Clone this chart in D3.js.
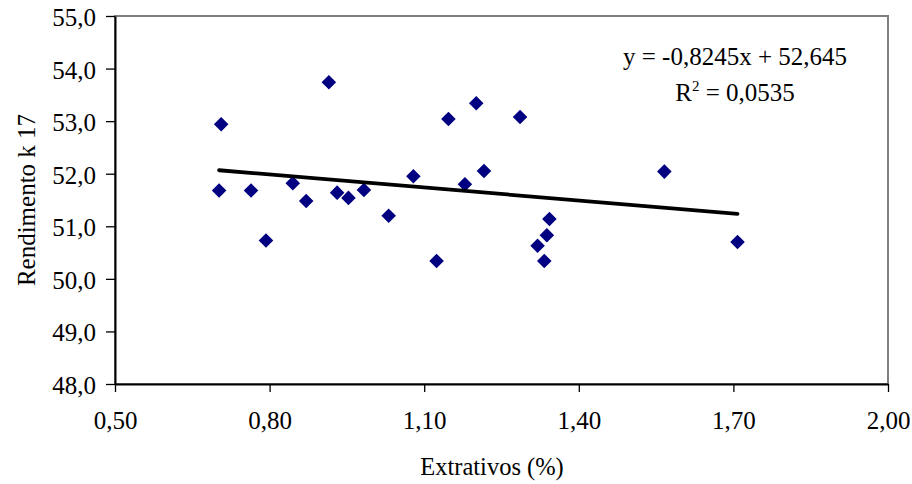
<!DOCTYPE html>
<html>
<head>
<meta charset="utf-8">
<script src="https://cdn.jsdelivr.net/npm/d3@7"></script>
<style>
  body { margin: 0; background: #fff; }
  text { font-family: "Liberation Serif", "Times New Roman", serif; fill: #000; }
</style>
</head>
<body>
<svg id="chart" width="912" height="484"></svg>
<script>
// Extrativos (%) vs Rendimento k 17
var extrativos = [0.702, 0.706, 0.764, 0.793, 0.845, 0.871, 0.915, 0.931, 0.953, 0.983,
  1.031, 1.079, 1.124, 1.147, 1.179, 1.201, 1.216, 1.286, 1.320, 1.333,
  1.338, 1.343, 1.566, 1.708];
var rendimento = [51.68, 52.94, 51.68, 50.73, 51.82, 51.48, 53.74, 51.64, 51.54, 51.69,
  51.20, 51.95, 50.34, 53.04, 51.80, 53.34, 52.05, 53.08, 50.63, 50.34,
  50.83, 51.14, 52.04, 50.70];

var xTicks = [0.5, 0.8, 1.1, 1.4, 1.7, 2.0];
var yTicks = [48, 49, 50, 51, 52, 53, 54, 55];

// linear trend as printed on the chart
var slope = -0.8245, intercept = 52.645;
var eqLine1 = "y = -0,8245x + 52,645";
var eqR2 = " = 0,0535";

var points = extrativos.map((d, i) => ({x: d, y: rendimento[i]}));

var svg = d3.select("#chart"),
  margin = {top: 16, left: 115, bottom: 100, right: 24},
  width = +svg.attr("width"),
  height = +svg.attr("height");

var locale = d3.formatLocale({decimal: ",", thousands: ".", grouping: [3], currency: ["", ""]});

var x = d3.scaleLinear()
  .domain([0.5, 2.0])
  .range([margin.left, width - margin.right]);

var y = d3.scaleLinear()
  .domain([48, 55])
  .range([height - margin.bottom, margin.top]);

// plot area border (top & right in grey)
svg.append("rect")
  .attr("x", x(0.5))
  .attr("y", y(55))
  .attr("width", x(2.0) - x(0.5))
  .attr("height", y(48) - y(55))
  .attr("fill", "none")
  .attr("stroke", "#808080")
  .attr("stroke-width", 2);

var xAxis = svg.append("g")
  .attr("transform", `translate(0,${y(48)})`)
  .call(d3.axisBottom(x).tickValues(xTicks).tickFormat(locale.format(".2f"))
    .tickSize(8).tickSizeOuter(0).tickPadding(20));

var yAxis = svg.append("g")
  .attr("transform", `translate(${x(0.5)},0)`)
  .call(d3.axisLeft(y).tickValues(yTicks).tickFormat(locale.format(".1f"))
    .tickSize(9).tickSizeOuter(0).tickPadding(10));

svg.selectAll(".domain").attr("stroke", "#000").attr("stroke-width", 2);
svg.selectAll(".tick line").attr("stroke", "#000").attr("stroke-width", 1.3);
svg.selectAll(".tick text")
  .style("font-family", "'Liberation Serif', serif")
  .style("font-size", "25px")
  .attr("fill", "#000");
xAxis.selectAll(".tick text").attr("dy", "0.68em");
yAxis.selectAll(".tick text").attr("dy", "0.38em");

// markers
svg.append("g").selectAll("path")
  .data(points)
  .enter().append("path")
  .attr("d", d3.symbol(d3.symbolSquare, 106))
  .attr("transform", d => `translate(${x(d.x)},${y(d.y)}) rotate(45)`)
  .attr("fill", "#000080");

// trend line across the data range
var xr = d3.extent(extrativos);
svg.append("line")
  .attr("x1", x(xr[0]))
  .attr("y1", y(slope * xr[0] + intercept))
  .attr("x2", x(xr[1]))
  .attr("y2", y(slope * xr[1] + intercept))
  .attr("stroke", "#000")
  .attr("stroke-width", 3.8)
  .attr("stroke-linecap", "round");

// equation
svg.append("text")
  .attr("x", 735).attr("y", 65)
  .attr("text-anchor", "middle")
  .style("font-size", "25px")
  .text(eqLine1);

var r2 = svg.append("text")
  .attr("x", 735).attr("y", 101)
  .attr("text-anchor", "middle")
  .style("font-size", "25px");
r2.append("tspan").text("R");
r2.append("tspan").attr("dy", -10).style("font-size", "15px").text("2");
r2.append("tspan").attr("dy", 10).text(eqR2);

// axis titles
svg.append("text")
  .attr("x", 492)
  .attr("y", 475)
  .attr("text-anchor", "middle")
  .style("font-size", "24.5px")
  .text("Extrativos (%)");

svg.append("text")
  .attr("transform", `translate(35,${(y(48) + y(55)) / 2}) rotate(-90)`)
  .attr("text-anchor", "middle")
  .style("font-size", "25px")
  .text("Rendimento k 17");
</script>
</body>
</html>
